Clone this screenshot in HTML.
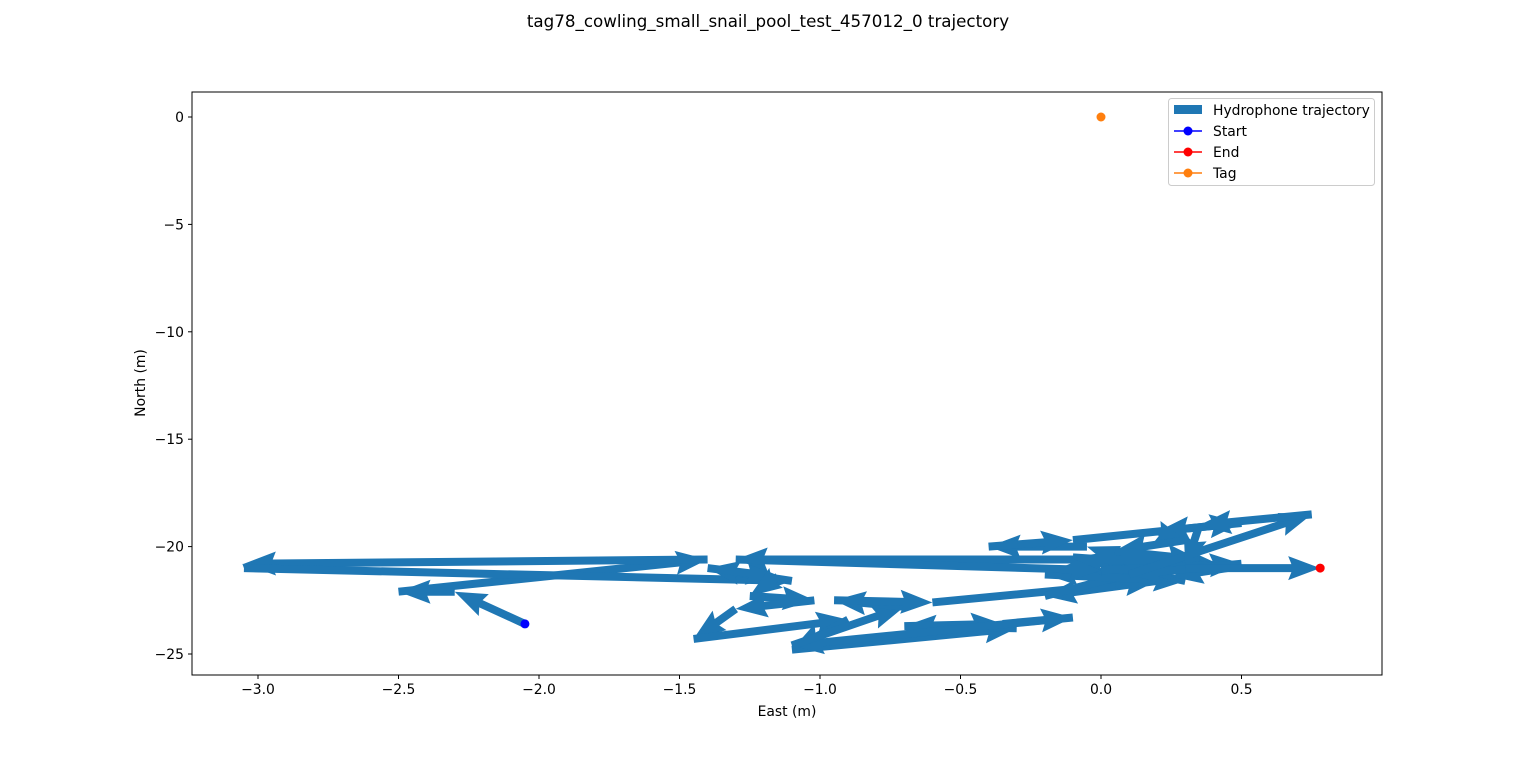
<!DOCTYPE html>
<html><head><meta charset="utf-8"><style>
body{margin:0;background:#fff;font-family:"Liberation Sans","DejaVu Sans",sans-serif}
svg text{font-family:"DejaVu Sans","Liberation Sans",sans-serif}
</style></head><body>
<svg id="chart" width="1536" height="759" xmlns="http://www.w3.org/2000/svg">
<text x="768" y="27" text-anchor="middle" font-size="16.7">tag78_cowling_small_snail_pool_test_457012_0 trajectory</text>
<g id="arrows"></g>
<g id="axes"></g>
</svg>
<script>
const trajEast = [-2.05,-2.3,-2.5,-1.4,-3.05,-3.05,-1.1,-1.4,-1.15,-1.25,-1.02,-1.3,-1.45,-0.9,-1.1,-0.3,-0.7,-0.35,-0.1,-1.1,-0.7,-0.95,-0.6,0.2,-0.2,0.15,-0.2,0.3,-0.1,0.45,0.25,-0.05,-0.4,-0.1,0.5,0.2,0.3,0.05,0.35,-1.3,0.0,0.5,0.1,0.75,0.35,0.3,0.78];
const trajNorth = [-23.6,-22.1,-22.1,-20.6,-20.8,-21.0,-21.6,-21.0,-21.4,-22.3,-22.5,-22.9,-24.3,-23.4,-24.8,-23.8,-23.7,-23.6,-23.3,-24.6,-22.8,-22.5,-22.6,-21.6,-22.3,-21.1,-21.3,-21.6,-20.5,-21.0,-21.4,-20.0,-20.0,-19.7,-18.9,-19.3,-19.7,-20.2,-20.6,-20.6,-21.1,-20.8,-21.3,-18.5,-19.0,-21.0,-21.0];
const tagPos = [0.0, 0.0];
const xTicks = [-3.0,-2.5,-2.0,-1.5,-1.0,-0.5,0.0,0.5];
const yTicks = [0,-5,-10,-15,-20,-25];
const NS="http://www.w3.org/2000/svg";
const L=192,R=1382,T=92,B=675;
const X=v=>1101+281*v, Y=v=>117-21.48*v;
function mk(tag,attrs,parent){const e=document.createElementNS(NS,tag);for(const k in attrs)e.setAttribute(k,attrs[k]);parent.appendChild(e);return e;}
const ax=document.getElementById('axes'), ar=document.getElementById('arrows');
const w=8,hl=4*w,hal=3.6*w,hw=3*w;
for(let i=0;i<trajEast.length-1;i++){
  const x0=X(trajEast[i]),y0=Y(trajNorth[i]),x1=X(trajEast[i+1]),y1=Y(trajNorth[i+1]);
  const len=Math.hypot(x1-x0,y1-y0); if(len<0.5) continue;
  const s=len<hl?len/hl:1;
  const H=hl*s,HA=hal*s,HW=hw*s/2,SW=w*s/2;
  const pts=[[0,-SW],[len-HA,-SW],[len-H,-HW],[len,0],[len-H,HW],[len-HA,SW],[0,SW]];
  const a=Math.atan2(y1-y0,x1-x0)*180/Math.PI;
  const p=mk('polygon',{points:pts.map(q=>q.join(',')).join(' '),fill:'#1f77b4',transform:`translate(${x0},${y0}) rotate(${a})`},ar);
  
  
}
const n=trajEast.length-1;
let c=mk('circle',{cx:X(trajEast[0]),cy:Y(trajNorth[0]),r:4.5,fill:'#0000ff'},ax);

c=mk('circle',{cx:X(trajEast[n]),cy:Y(trajNorth[n]),r:4.5,fill:'#ff0000'},ax);

c=mk('circle',{cx:X(tagPos[0]),cy:Y(tagPos[1]),r:4.5,fill:'#ff7f0e'},ax);

let f=mk('rect',{x:L,y:T,width:R-L,height:B-T,fill:'none',stroke:'#000','stroke-width':1},ax);

const fs=13.9;
xTicks.forEach(v=>{const x=X(v);mk('line',{x1:x,x2:x,y1:B,y2:B+4,stroke:'#000'},ax);
 const t=mk('text',{x:x,y:B+19,'text-anchor':'middle','font-size':fs},ax);t.textContent=(v<0?'\u2212':'')+Math.abs(v).toFixed(1);
 });
yTicks.forEach(v=>{const y=Y(v);mk('line',{x1:L-4,x2:L,y1:y,y2:y,stroke:'#000'},ax);
 const t=mk('text',{x:L-8,y:y+5,'text-anchor':'end','font-size':fs},ax);t.textContent=(v<0?'\u2212':'')+Math.abs(v);
 });
let t=mk('text',{x:787,y:716,'text-anchor':'middle','font-size':fs},ax);t.textContent='East (m)';

t=mk('text',{x:145,y:383,'text-anchor':'middle','font-size':fs,transform:'rotate(-90 145 383)'},ax);t.textContent='North (m)';

const lg=mk('g',{},ax);
mk('rect',{x:1168.5,y:98.5,width:206,height:87,rx:3,fill:'#fff','fill-opacity':0.8,stroke:'#ccc'},lg);
mk('rect',{x:1174,y:105,width:28,height:9,fill:'#1f77b4'},lg);
const items=[['Hydrophone trajectory',null,114],['Start','#0000ff',135],['End','#ff0000',156],['Tag','#ff7f0e',177]];
items.forEach(it=>{if(it[1]){const cy=it[2]-4;mk('line',{x1:1174,x2:1202,y1:cy,y2:cy,stroke:it[1],'stroke-width':1.5},lg);mk('circle',{cx:1188,cy:cy,r:4.5,fill:it[1]},lg);}
 const tt=mk('text',{x:1213,y:it[2]+1,'font-size':fs},lg);tt.textContent=it[0];
 });
</script>
</body></html>
